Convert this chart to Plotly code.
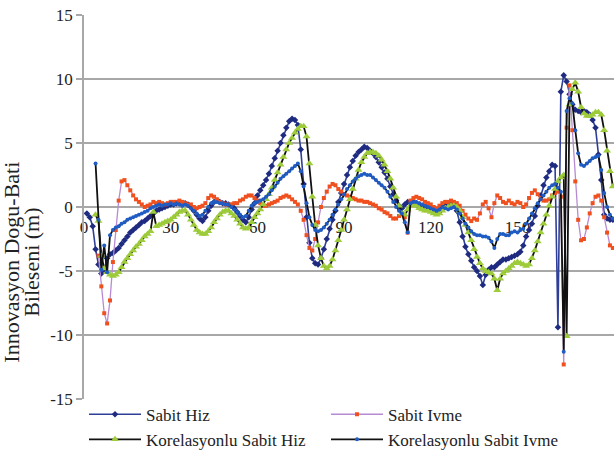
import plotly.graph_objects as go

# Innovation (east-west component) per epoch for four filter models
sabit_hiz_start = 1
sabit_hiz = [
    -0.5, -0.8, -1.5, -3.3, -4.5, -5.2, -4.9, -4.0, -3.7, -3.6,
    -3.4, -3.2, -2.9, -2.6, -2.3, -2.0, -1.8, -1.6, -1.4, -1.2,
    -1.1, -0.9, -0.7, -0.5, -0.3, -0.2, -0.1, 0.0, 0.1, 0.2,
    0.2, 0.3, 0.3, 0.2, 0.3, 0.2, 0.0, -0.3, -0.6, -0.9,
    -1.1, -0.8, -0.3, 0.1, 0.4, 0.5, 0.4, 0.3, 0.3, 0.2,
    0.1, -0.1, -0.4, -0.7, -1.0, -1.2, -0.8, -0.2, 0.3, 0.9,
    1.3, 1.7, 2.1, 2.6, 3.2, 3.8, 4.4, 5.0, 5.6, 6.2,
    6.7, 6.9, 6.8, 6.4, 4.5, 1.8, -0.8, -2.8, -4.0, -4.4,
    -4.5, -4.0, -3.3, -2.5, -1.7, -1.0, -0.3, 0.4, 1.1, 1.8,
    2.5, 3.1, 3.6, 4.0, 4.3, 4.5, 4.7, 4.6, 4.4, 4.2,
    3.9, 3.5, 3.1, 2.7, 2.2, 1.6, 1.0, 0.5, 0.1, -0.1,
    0.2, 0.4, 0.4, 0.4, 0.3, 0.2, 0.1, 0.0, -0.1, -0.2,
    -0.3, -0.4, -0.3, 0.0, 0.2, 0.3, 0.3, 0.2, -0.3, -1.2,
    -2.3, -3.1, -3.7, -4.2, -4.7, -5.0, -5.4, -6.1, -5.3, -4.9,
    -4.7, -4.7, -4.5, -4.3, -4.1, -4.1, -4.0, -3.9, -3.8, -3.7,
    -3.5, -3.0, -2.3, -1.8, -1.3, -0.7, 0.1, 0.9, 1.7, 2.3,
    2.8, 3.3, 3.2, -9.4, 9.0, 10.3, 9.8, 8.8, 8.0, 7.6,
    7.5, 7.4, 7.5, 7.4, 7.2, 6.8, 6.2, 4.1, 2.1, -0.6,
    -0.9, -1.0, -1.0,
]

sabit_ivme_start = 5
sabit_ivme = [
    -3.8, -6.2, -8.3, -9.1, -7.3, -4.3,
    -1.8, 0.5, 2.0, 2.1, 1.7, 1.3, 0.9, 0.6, 0.4, 0.2,
    0.0, 0.1, 0.2, 0.4, 0.3, 0.4, 0.3, 0.2, 0.3, 0.4,
    0.4, 0.4, 0.5, 0.4, 0.3, 0.2, 0.2, 0.0, -0.1, 0.0,
    0.1, 0.3, 0.7, 0.9, 0.8, 0.6, 0.4, 0.3, 0.2, 0.2,
    0.2, 0.3, 0.3, 0.5, 0.6, 0.8, 0.9, 0.9, 0.7, 0.5,
    0.3, 0.1, 0.1, 0.2, 0.3, 0.4, 0.5, 0.7, 0.8, 0.9,
    0.8, 0.6, 0.4, 0.2, -0.3, -1.0, -2.2, -3.2, -3.4, -2.5,
    -1.2, 0.0, 0.7, 1.2, 1.6, 1.8, 1.7, 1.4, 1.2, 1.0,
    0.9, 0.8, 0.7, 0.6, 0.5, 0.5, 0.4, 0.4, 0.3, 0.2,
    0.1, -0.1, -0.2, -0.4, -0.5, -0.7, -0.9, -0.9, -0.7, -0.5,
    -0.8, -2.0, 0.5, 0.7, 0.8, 0.7, 0.6, 0.4, 0.3, 0.2,
    0.0, -0.1, 0.1, 0.3, 0.4, 0.4, 0.5, 0.4, 0.3, 0.1,
    -0.3, -0.6, -0.9, -1.1, -0.9, -1.0, -0.5, 0.2, 0.4, -0.1,
    -0.8, 0.3, 0.9, 0.7, 0.4, 0.3, 0.5, 0.3, 0.2, 0.4,
    0.3, 0.0, 0.2, 0.7, 1.1, 1.3, 1.0, 0.7, 0.5, 0.5,
    0.6, 0.9, 1.1, 1.2, 0.8, -12.3, 6.2, 9.5, 6.0, 2.0,
    -1.0, -2.6, -2.5, -1.6, -0.5, 0.3, 0.8, 0.9, 0.5, -0.8,
    -2.0, -3.0, -3.2,
]

kor_sabit_hiz_start = 4
kor_sabit_hiz = [
    -0.6, -1.1, -3.8, -4.8, -5.1, -5.3, -5.4,
    -5.3, -5.1, -4.7, -4.3, -4.0, -3.7, -3.4, -3.1, -2.9, -2.6,
    -2.3, -2.1, -1.9, -0.4, -1.5, -1.4, -1.3, -1.2, -1.1, -1.0,
    -0.8, -0.6, -0.4, -0.3, -0.3, -0.6, -1.0, -1.4, -1.8, -2.0,
    -2.1, -2.1, -1.9, -1.6, -1.2, -0.9, -0.6, -0.4, -0.3, -0.3,
    -0.5, -0.7, -1.0, -1.3, -1.6, -1.7, -1.6, -1.2, -0.8, -0.5,
    -0.2, 0.2, 0.6, 1.0, 1.5, 2.1, 2.7, 3.3, 3.9, 4.5,
    5.0, 5.4, 5.8, 6.1, 6.3, 6.3, 5.5, 3.4, 0.8, -1.4,
    -3.0, -4.0, -4.6, -4.8, -4.6, -4.1, -3.4, -2.6, -1.8, -1.0,
    -0.2, 0.6, 1.4, 2.2, 2.9, 3.5, 3.9, 4.2, 4.3, 4.3,
    4.2, 4.0, 3.7, 3.3, 2.8, 2.2, 1.5, 0.8, 0.1, -0.5,
    -0.6, -0.2, 0.1, 0.2, 0.1, -0.1, -0.2, -0.3, -0.3, -0.4,
    -0.5, -0.6, -0.5, -0.3, -0.1, 0.0, 0.1, 0.1, 0.0, -0.3,
    -0.8, -1.4, -2.0, -2.6, -3.3, -3.9, -4.4, -4.8, -5.0, -5.1,
    -5.2, -5.6, -6.5, -5.6, -5.2, -5.0, -4.8, -4.6, -4.4, -4.3,
    -4.4, -4.5, -4.6, -4.5, -4.0, -3.4, -2.7, -2.0, -1.3, -0.6,
    0.1, 0.8, 1.4, 2.0, 2.3, 2.5, -10.1, 8.0, 9.2, 9.7,
    9.0, 7.8, 7.3, 7.1, 7.1, 7.2, 7.4, 7.4, 7.2, 6.0,
    4.4, 2.8, 1.6,
]

kor_sabit_ivme_start = 4
kor_sabit_ivme = [
    3.4, -1.0, -4.9, -3.0, -5.1, -2.2, -1.8,
    -1.6, -1.5, -1.3, -1.2, -1.0, -0.9, -0.8, -0.7, -0.6, -0.5,
    -0.4, -0.3, -0.1, 0.0, 0.1, 0.2, 0.1, 0.2, 0.2, 0.3,
    0.2, 0.3, 0.2, 0.1, 0.2, 0.1, -0.1, -0.3, -0.5, -0.7,
    -0.6, -0.3, 0.0, 0.3, 0.4, 0.4, 0.3, 0.3, 0.2, 0.2,
    0.0, -0.2, -0.4, -0.6, -0.8, -0.7, -0.3, 0.1, 0.3, 0.4,
    0.5, 0.6, 0.8, 1.0, 1.3, 1.6, 1.9, 2.2, 2.4, 2.6,
    2.8, 3.0, 3.2, 3.4, 2.8, 1.6, 0.3, -0.8, -1.4, -1.8,
    -1.9, -1.8, -1.6, -1.3, -1.0, -0.6, -0.2, 0.2, 0.6, 1.0,
    1.4, 1.7, 2.0, 2.2, 2.4, 2.5, 2.6, 2.5, 2.5, 2.3,
    2.1, 1.9, 1.7, 1.5, 1.2, 0.8, 0.4, 0.0, -0.3, -0.5,
    -1.2, -2.0, 0.3, 0.4, 0.4, 0.3, 0.2, 0.1, 0.0, -0.1,
    -0.2, -0.3, -0.2, 0.0, -0.1, -0.2, -0.1, 0.0, -0.2, -0.5,
    -0.9, -1.3, -1.6, -1.9, -2.1, -2.2, -2.2, -2.3, -2.3, -2.4,
    -2.7, -3.2, -2.5, -2.1, -2.1, -2.2, -2.2, -2.0, -1.9, -2.0,
    -1.8, -1.7, -1.3, -0.9, -0.5, -0.1, 0.3, 0.6, 0.9, 1.2,
    1.5, 1.7, 1.8, 1.5, 1.2, -11.3, 7.5, 8.5, 8.1, 6.0,
    4.2, 3.3, 3.2, 3.4, 3.6, 3.8, 3.9, 4.0, 2.9, 1.1,
    0.0, -0.6, -0.9,
]

x_ticks = [0, 30, 60, 90, 120, 150, 180]
y_ticks = [-15, -10, -5, 0, 5, 10, 15]
y_tick_labels = ["-15", "-10", "-5", "0", "5", "10", "15"]

SERIF = "Liberation Serif"
TEXT = "#222222"
GRID = "#a8a8a8"


def epochs(start, values):
    return list(range(start, start + len(values)))


fig = go.Figure()

fig.add_trace(go.Scatter(
    name="Sabit Hiz",
    x=epochs(sabit_hiz_start, sabit_hiz), y=sabit_hiz,
    mode="lines+markers",
    line=dict(color="#2f3f98", width=1.6),
    marker=dict(symbol="diamond", size=5, color="#1f2b80"),
))
fig.add_trace(go.Scatter(
    name="Sabit Ivme",
    x=epochs(sabit_ivme_start, sabit_ivme), y=sabit_ivme,
    mode="lines+markers",
    line=dict(color="#b88ad2", width=1.3),
    marker=dict(symbol="square", size=4, color="#f0501e"),
))
fig.add_trace(go.Scatter(
    name="Korelasyonlu Sabit Hiz",
    x=epochs(kor_sabit_hiz_start, kor_sabit_hiz), y=kor_sabit_hiz,
    mode="lines+markers",
    line=dict(color="#111111", width=1.8),
    marker=dict(symbol="triangle-up", size=7, color="#9dcb3a"),
))
fig.add_trace(go.Scatter(
    name="Korelasyonlu Sabit Ivme",
    x=epochs(kor_sabit_ivme_start, kor_sabit_ivme), y=kor_sabit_ivme,
    mode="lines+markers",
    line=dict(color="#111111", width=1.8),
    marker=dict(symbol="circle", size=4, color="#1f5cc4"),
))

# Two-line rotated y-axis caption
fig.add_annotation(
    text="Innovasyon Dogu-Bati", textangle=-90, showarrow=False,
    xref="paper", yref="paper", x=-0.137, y=0.356,
    xanchor="center", yanchor="middle",
    font=dict(family=SERIF, size=22, color=TEXT),
)
fig.add_annotation(
    text="Bileseni (m)", textangle=-90, showarrow=False,
    xref="paper", yref="paper", x=-0.099, y=0.356,
    xanchor="center", yanchor="middle",
    font=dict(family=SERIF, size=22, color=TEXT),
)

fig.update_layout(
    width=614, height=452,
    margin=dict(l=84, r=0, t=15, b=53, autoexpand=False),
    paper_bgcolor="white", plot_bgcolor="white",
    font=dict(family=SERIF, size=17, color=TEXT),
    showlegend=True,
    legend=dict(
        orientation="h", x=0.0, y=0.006, xanchor="left", yanchor="top",
        entrywidth=175, entrywidthmode="pixels",
        font=dict(family=SERIF, size=17, color=TEXT),
        itemwidth=52, tracegroupgap=0, bgcolor="rgba(0,0,0,0)",
    ),
    xaxis=dict(
        range=[0, 183.4], tickvals=x_ticks, ticktext=[str(v) for v in x_ticks],
        showgrid=False, zeroline=False, showline=False, ticks="",
        anchor="free", position=0.479, side="bottom", layer="below traces",
        tickfont=dict(family=SERIF, size=17, color=TEXT),
    ),
    yaxis=dict(
        range=[-15, 15], tickvals=y_ticks, ticktext=y_tick_labels,
        showgrid=True, gridcolor=GRID, gridwidth=1.5,
        zeroline=False, showline=True, linecolor=GRID, linewidth=1.5,
        ticks="outside", ticklen=6, tickcolor=GRID, tickwidth=1.5,
        tickfont=dict(family=SERIF, size=17, color=TEXT),
    ),
)

fig.write_html("out.html")
